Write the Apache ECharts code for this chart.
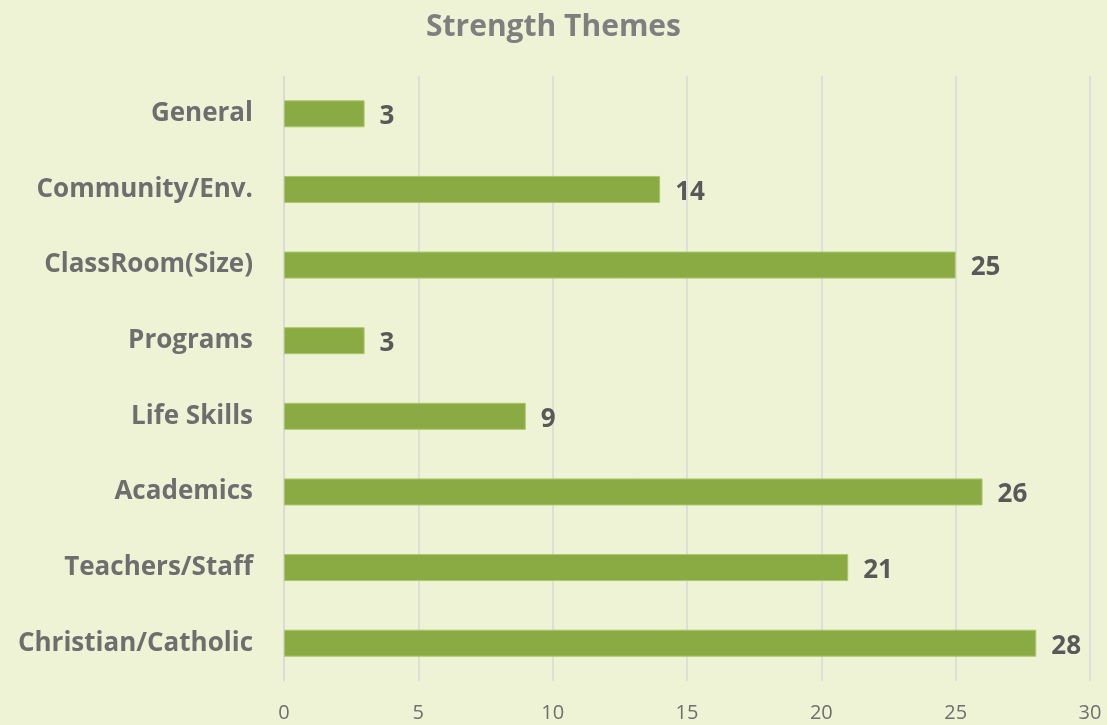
<!DOCTYPE html>
<html>
<head>
<meta charset="utf-8">
<script src="https://cdn.jsdelivr.net/npm/echarts@6/dist/echarts.min.js"></script>
<style>
  html, body { margin: 0; padding: 0; background: #eff3d5; }
  #chart { width: 1107px; height: 725px; }
</style>
</head>
<body>
<div id="chart"></div>
<script>
// categories from bottom to top (as drawn on a category y axis)
const categories = ['Christian/Catholic', 'Teachers/Staff', 'Academics', 'Life Skills',
  'Programs', 'ClassRoom(Size)', 'Community/Env.', 'General']
const counts = [28, 21, 26, 9, 3, 25, 14, 3]
const xTicks = [0, 5, 10, 15, 20, 25, 30]

const font = '"Open Sans", "Noto Sans", sans-serif'

const chart = echarts.init(document.getElementById('chart'))
chart.setOption({
  backgroundColor: '#eff3d5',
  animation: false,
  title: {
    text: 'Strength Themes',
    left: 'center',
    top: 7,
    textStyle: { color: '#7f7f7f', fontSize: 30, fontWeight: 'bold', fontFamily: font }
  },
  grid: { left: 284, right: 17, top: 76, bottom: 44 },
  xAxis: {
    type: 'value',
    min: xTicks[0],
    max: xTicks[xTicks.length - 1],
    interval: 5,
    axisLine: { show: false },
    axisTick: { show: false },
    splitLine: { lineStyle: { color: '#d9d9d9', width: 1.5 } },
    axisLabel: { color: '#6f6f6f', fontSize: 20, fontFamily: font, margin: 22 }
  },
  yAxis: {
    type: 'category',
    data: categories,
    axisLine: { show: true, lineStyle: { color: '#d9d9d9', width: 1.5 } },
    axisTick: { show: false },
    axisLabel: { color: '#6e6e6e', fontSize: 26, fontWeight: 'bold', fontFamily: font, margin: 31 }
  },
  series: [{
    type: 'bar',
    data: counts,
    barWidth: 27,
    itemStyle: { color: '#8aab44', borderColor: '#a9c86a', borderWidth: 1 },
    label: {
      show: true,
      position: 'right',
      distance: 15,
      color: '#595959',
      fontSize: 26,
      fontWeight: 'bold',
      fontFamily: font,
      offset: [0, 3]
    }
  }]
})
</script>
</body>
</html>
